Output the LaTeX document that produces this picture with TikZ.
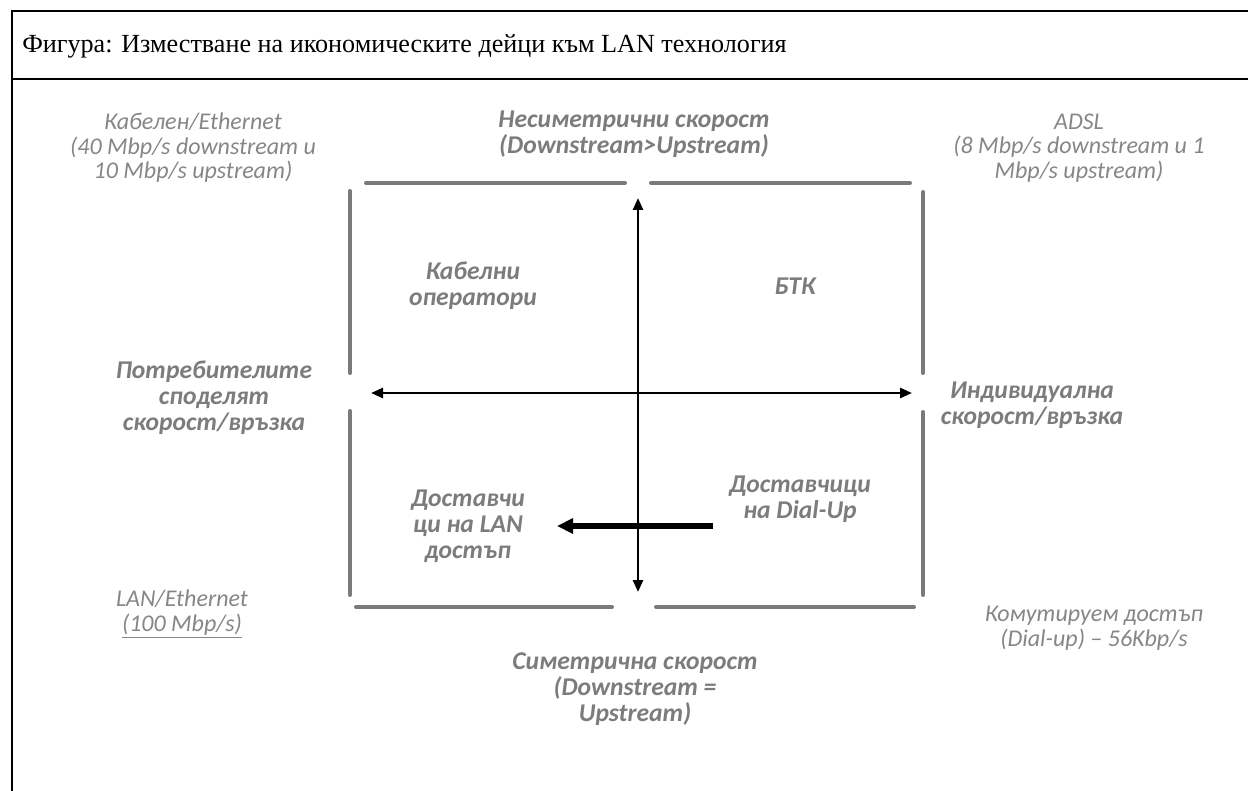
\documentclass[tikz,border=0pt]{standalone}
\usepackage{fontspec}
\setmainfont{Liberation Serif}
\newfontfamily\labelfont{Carlito}
\usepackage{xcolor}
\usetikzlibrary{arrows.meta, positioning}

\definecolor{capgray}{HTML}{868686}
\definecolor{labgray}{HTML}{7C7C7C}
\definecolor{seggray}{HTML}{7A7A7A}

\begin{document}
\begin{tikzpicture}[
    x=0.75pt, y=-0.75pt,
    % Gray captions at the corners
    caption/.style={font=\labelfont\itshape\fontsize{18}{18.4}\selectfont, text=capgray, align=center, inner sep=0pt},
    % Bold captions of axes and quadrants
    axislabel/.style={font=\labelfont\bfseries\itshape\fontsize{19.2}{19.4}\selectfont, text=labgray, align=center, inner sep=0pt},
    % Quadrant frame pieces
    frameseg/.style={draw=seggray, line width=3pt, line cap=round},
    % Arrow styling
    axis/.style={{Triangle[length=9pt,width=7.5pt]}-{Triangle[length=9pt,width=7.5pt]}, line width=1.9pt},
    movearrow/.style={-{Triangle[length=12pt,width=11pt]}, line width=4.2pt}
]
\useasboundingbox (0,0) rectangle (1248,791);

% ---------------------------------------------------
% 1. FIGURE FRAME AND TITLE
% ---------------------------------------------------
\draw[line width=1.7pt] (12,791) -- (12,11) -- (1248,11);
\draw[line width=1.7pt] (12,79) -- (1248,79);
\node[anchor=west, inner sep=0pt, font=\fontsize{19.6}{24}\selectfont] (title) at (22,46) {Фигура: Изместване на икономическите дейци към LAN технология};

% ---------------------------------------------------
% 2. QUADRANT FRAME (Drawn as separate pieces)
% ---------------------------------------------------
\draw[frameseg] (366,183) -- (625,183);
\draw[frameseg] (651,183) -- (910,183);
\draw[frameseg] (356,607) -- (612,607);
\draw[frameseg] (656,607) -- (914,607);
\draw[frameseg] (350,191) -- (350,373);
\draw[frameseg] (350,411) -- (350,595);
\draw[frameseg] (923,192) -- (923,373);
\draw[frameseg] (923,412) -- (923,595);

% ---------------------------------------------------
% 3. CAPTIONS
% ---------------------------------------------------
\node[caption] (cable) at (193,148) {Кабелен/Ethernet\\(40 Mbp/s downstream и\\10 Mbp/s upstream)};
\node[caption] (adsl) at (1079,148) {ADSL\\(8 Mbp/s downstream и 1\\Mbp/s upstream)};
\node[caption] (lan) at (182,614) {LAN/Ethernet\\\underline{(100 Mbp/s)}};
\node[caption] (dial) at (1094,628) {Комутируем достъп\\(Dial-up) – 56Kbp/s};

\node[axislabel] (asym) at (634,134) {Несиметрични скорост\\(Downstream>Upstream)};
\node[axislabel] (sym) at (635,689) {Симетрична скорост\\(Downstream =\\Upstream)};
\node[axislabel] (shared) at (214,398) {Потребителите\\споделят\\скорост/връзка};
\node[axislabel] (indiv) at (1032,405) {Индивидуална\\скорост/връзка};

\node[axislabel] (cableops) at (473,286) {Кабелни\\оператори};
\node[axislabel] (btk) at (795,286) {БТК};
\node[axislabel] (lanprov) at (468,526) {Доставчи\\ци на LAN\\достъп};
\node[axislabel] (dialprov) at (800,499) {Доставчици\\на Dial-Up};

% ---------------------------------------------------
% 4. AXES AND SHIFT ARROW
% ---------------------------------------------------
\coordinate (vtop) at (638,198);
\coordinate (vbot) at (638,592);
\coordinate (hleft) at (371,393);
\coordinate (hright) at (912,393);
\coordinate (shiftfrom) at (713,526);
\coordinate (shiftto) at (557,526);

\draw[axis] (vtop) -- (vbot);
\draw[axis] (hleft) -- (hright);
\draw[movearrow] (shiftfrom) -- (shiftto);

\end{tikzpicture}
\end{document}
